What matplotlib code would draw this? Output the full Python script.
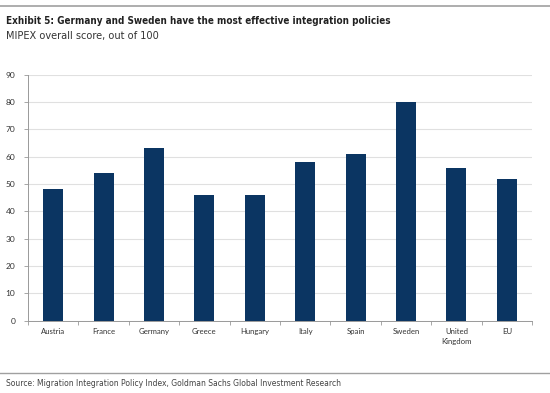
import matplotlib
matplotlib.use("Agg")
import matplotlib.pyplot as plt
import numpy as np

categories = ["Austria", "France", "Germany", "Greece", "Hungary", "Italy",
              "Spain", "Sweden", "United\nKingdom", "EU"]
scores = [48, 54, 63, 46, 46, 58, 61, 80, 56, 52]
yticks = list(range(0, 100, 10))

title = "Exhibit 5: Germany and Sweden have the most effective integration policies"
subtitle = "MIPEX overall score, out of 100"
source = "Source: Migration Integration Policy Index, Goldman Sachs Global Investment Research"

narrow = ["DejaVu Sans"]
tickfont = ["Lato", "DejaVu Sans"]
bar_color = "#0b3562"

fig = plt.figure(figsize=(5.5, 3.93), dpi=100)
ax = fig.add_axes([0.0509, 0.184, 0.9164, 0.626])

x = np.arange(len(categories))
ax.bar(x, scores, width=0.4, color=bar_color, zorder=3)
ax.set_xlim(-0.5, len(categories) - 0.5)
ax.set_ylim(0, 90)
ax.set_yticks(yticks)
ax.set_yticklabels([str(v) for v in yticks], family=tickfont, fontsize=6, color="#333333")
ax.set_xticks(x)
ax.set_xticklabels(categories, family=tickfont, fontsize=5.6, color="#333333", linespacing=1.5)
ax.tick_params(axis="x", length=0, pad=5)
ax.set_xticks(np.arange(-0.5, len(categories)), minor=True)
ax.tick_params(axis="x", which="minor", length=3, color="#999999", width=0.6)
ax.tick_params(axis="y", length=3, color="#999999", width=0.6, pad=6)
ax.grid(axis="y", color="#e0e0e0", linewidth=0.8, zorder=0)
for s in ["top", "right"]:
    ax.spines[s].set_visible(False)
for s in ["left", "bottom"]:
    ax.spines[s].set_color("#999999")
    ax.spines[s].set_linewidth(0.7)

# top and bottom rules
fig.add_artist(plt.Line2D([0.0, 1.0], [1 - 6 / 393, 1 - 6 / 393], color="#a0a0a0", linewidth=1.2))
fig.add_artist(plt.Line2D([0.0, 1.0], [1 - 373 / 393, 1 - 373 / 393], color="#a0a0a0", linewidth=1.0))

fig.text(0.011, 1 - 21 / 393, title, family=narrow, fontstretch="condensed", fontweight="bold",
         fontsize=7.1, color="#222222", va="center", ha="left")
fig.text(0.011, 1 - 36 / 393, subtitle, family=narrow, fontstretch="condensed", fontsize=7.85,
         color="#333333", va="center", ha="left")
fig.text(0.011, 1 - 384 / 393, source, family=narrow, fontstretch="condensed", fontsize=6.15,
         color="#444444", va="center", ha="left")

fig.savefig("out.png", dpi=100)
